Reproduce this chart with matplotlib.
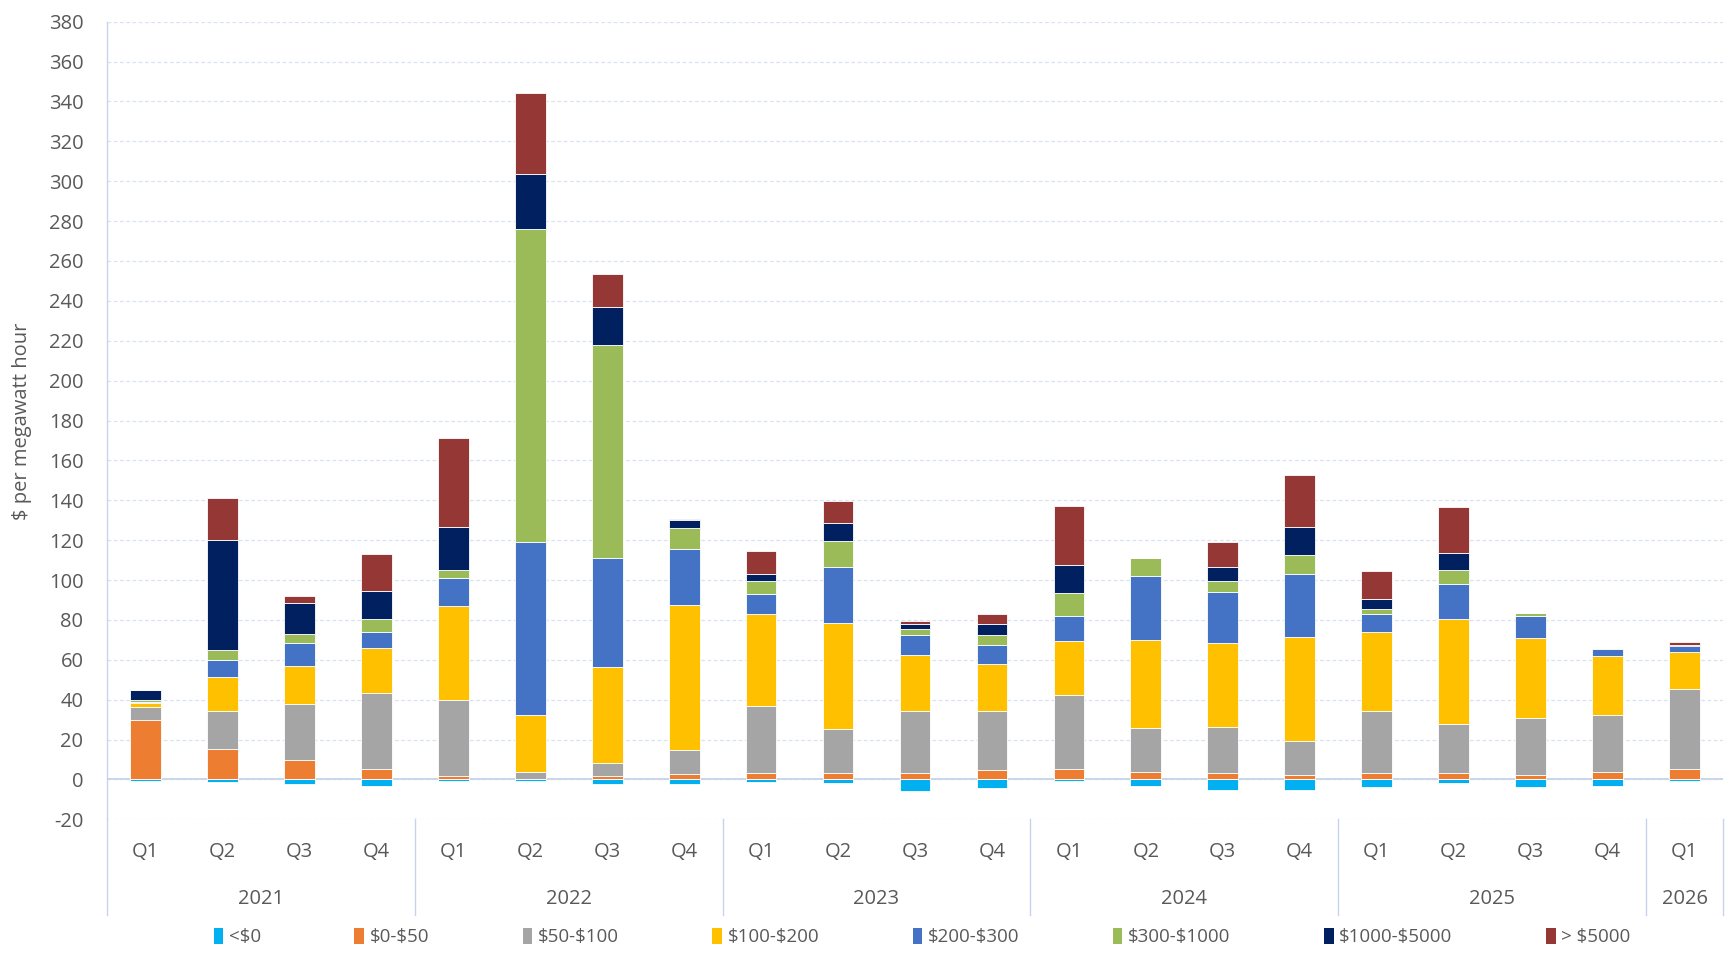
import matplotlib
matplotlib.use("Agg")
import matplotlib.pyplot as plt
import matplotlib.transforms as mtransforms
from matplotlib.patches import Patch
import numpy as np

plt.rcParams['font.family'] = ['Open Sans', 'DejaVu Sans']

years = ["2021", "2022", "2023", "2024", "2025", "2026"]
quarters = ["Q1", "Q2", "Q3", "Q4"] * 5 + ["Q1"]

series_names = ["<\\$0", "\\$0-\\$50", "\\$50-\\$100", "\\$100-\\$200", "\\$200-\\$300",
                "\\$300-\\$1000", "\\$1000-\\$5000", "> \\$5000"]
colors = ["#00B0F0", "#ED7D31", "#A5A5A5", "#FFC000", "#4472C4",
          "#9BBB59", "#002060", "#953735"]

neg_0 = [-0.7, -1.3, -2.2, -3.3, -0.7, -0.7, -2.3, -2.3, -1.5, -1.8, -5.8, -4.3,
         -1.0, -3.3, -5.3, -5.3, -3.8, -1.7, -3.8, -3.3, -1.0]
s_0_50 = [30.0, 15.5, 9.5, 5.0, 1.5, 0.3, 1.5, 2.7, 3.0, 3.0, 3.0, 4.5,
          5.0, 3.5, 3.0, 2.0, 3.0, 3.0, 2.0, 3.5, 5.0]
s_50_100 = [6.3, 19.0, 28.5, 38.5, 38.5, 3.2, 6.5, 12.0, 34.0, 22.5, 31.5, 30.0,
            37.5, 22.5, 23.5, 17.5, 31.5, 25.0, 29.0, 29.0, 40.5]
s_100_200 = [2.0, 16.7, 18.7, 22.2, 47.2, 28.7, 48.2, 73.0, 46.2, 53.0, 27.7, 23.2,
             26.7, 43.7, 41.7, 51.7, 39.2, 52.5, 39.7, 29.2, 18.2]
s_200_300 = [0.4, 8.6, 11.8, 8.3, 13.8, 86.8, 54.8, 27.8, 9.6, 27.8, 10.1, 9.8,
             12.8, 32.3, 25.8, 31.8, 9.3, 17.5, 11.3, 3.6, 3.0]
s_300_1000 = [1.3, 5.2, 4.2, 6.7, 4.2, 156.8, 106.8, 10.5, 6.7, 13.2, 3.2, 4.7,
              11.7, 9.0, 5.5, 9.7, 2.7, 7.2, 1.5, 0.7, 0.3]
s_1000_5000 = [4.7, 55.3, 15.8, 13.6, 21.3, 27.9, 19.2, 4.0, 3.3, 9.3, 2.3, 5.6,
               13.8, 0.0, 7.0, 13.8, 4.6, 8.6, 0.0, 0.0, 0.3]
s_5000 = [0.0, 20.7, 3.7, 18.7, 44.6, 40.3, 16.3, 0.5, 11.9, 10.7, 1.7, 5.2,
          29.5, 0.0, 12.5, 26.2, 14.2, 22.7, 0.0, 0.0, 1.5]

pos_series = [s_0_50, s_50_100, s_100_200, s_200_300, s_300_1000, s_1000_5000, s_5000]

W, H = 1736, 960
fig = plt.figure(figsize=(W / 100, H / 100), dpi=100)
left, right, top, bottom = 107, 1723, 21.7, 819.3
ax = fig.add_axes([left / W, 1 - bottom / H, (right - left) / W, (bottom - top) / H])

n = len(quarters)
x = np.arange(n)
bw = 0.4
grid_c = "#D9E2F2"
axis_c = "#C6D3EA"
txt_c = "#595959"
fs = 14.5

ax.bar(x, neg_0, bw, color=colors[0], edgecolor="white", linewidth=0.6, zorder=3)
base = np.zeros(n)
for vals, c in zip(pos_series, colors[1:]):
    v = np.array(vals)
    ax.bar(x, v, bw, bottom=base, color=c, edgecolor="white", linewidth=0.6, zorder=3)
    base = base + v

ax.set_xlim(-0.5, n - 0.5)
ax.set_ylim(-20, 380)
ax.set_yticks(np.arange(-20, 381, 20))
ax.set_yticklabels([str(v) for v in range(-20, 381, 20)], fontsize=fs, color=txt_c)
ax.tick_params(axis="y", length=0, pad=17)
ax.set_xticks([])
ax.yaxis.grid(True, linestyle=(0, (3, 2)), color=grid_c, linewidth=0.9, zorder=0)
ax.set_axisbelow(True)
ax.axhline(0, color=axis_c, linewidth=1.3, zorder=2)
for s in ["top", "right", "bottom"]:
    ax.spines[s].set_visible(False)
ax.spines["left"].set_color(axis_c)
ax.spines["left"].set_linewidth(1.0)

trans = mtransforms.blended_transform_factory(ax.transData, ax.transAxes)
ah = bottom - top
q_y = -(852 - bottom) / ah
y_y = -(899 - bottom) / ah
sep_y = -(915 - bottom) / ah

for i, q in enumerate(quarters):
    ax.text(i, q_y, q, transform=trans, ha="center", va="center", fontsize=fs, color=txt_c)

groups = [(0, 4), (4, 8), (8, 12), (12, 16), (16, 20), (20, 21)]
for yr, (a, b) in zip(years, groups):
    ax.text((a + b - 1) / 2, y_y, yr, transform=trans, ha="center", va="center",
            fontsize=fs, color=txt_c)
bounds = sorted(set([g[0] for g in groups] + [groups[-1][1]]))
for bnd in bounds:
    ax.plot([bnd - 0.5, bnd - 0.5], [0, sep_y], transform=trans, color=axis_c,
            linewidth=1.0, clip_on=False)

fig.text(22 / W, 1 - 421 / H, "$ per megawatt hour", rotation=90, ha="center",
         va="center", fontsize=fs, color=txt_c)

handles = [Patch(facecolor=c, edgecolor="none") for c in colors]
fig.legend(handles, series_names, loc="center", ncol=8,
           bbox_to_anchor=(922 / W, 1 - 937 / H), frameon=False, fontsize=13.5,
           labelcolor=txt_c, handlelength=0.5, handleheight=1.0, handletextpad=0.3,
           columnspacing=5.0)

fig.savefig("out.png", dpi=100)
